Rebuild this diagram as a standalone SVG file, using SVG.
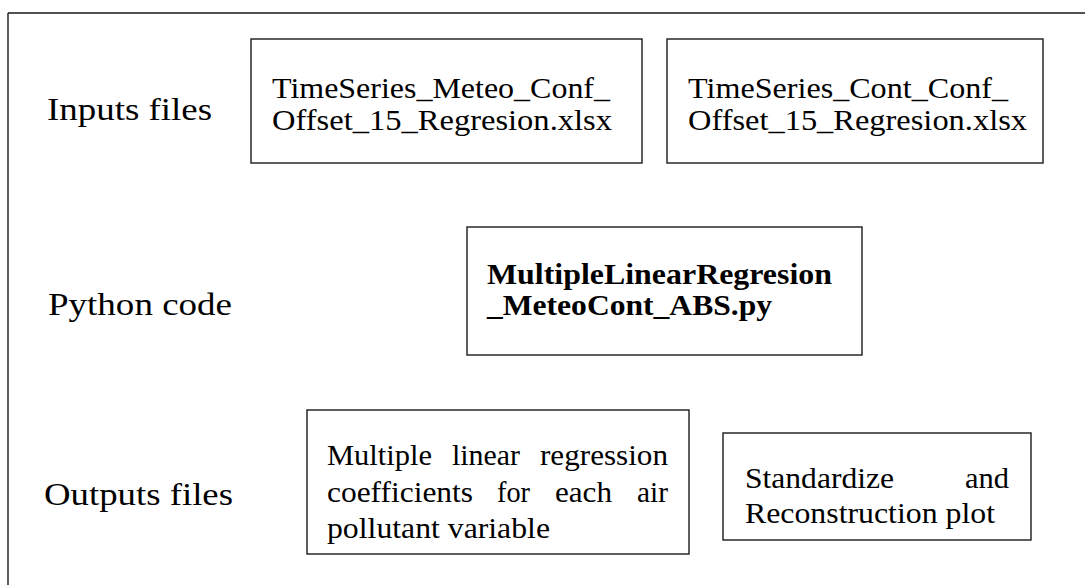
<svg xmlns="http://www.w3.org/2000/svg" width="1085" height="585" viewBox="0 0 1085 585">
<style>
.box{fill:#fff;stroke:#1a1a1a;stroke-width:1.4}
.frame{fill:none;stroke:#1a1a1a;stroke-width:1.4}
.t{font-family:"Liberation Serif","Times New Roman",serif;font-size:29px;fill:#000}
.lbl{font-family:"Liberation Serif","Times New Roman",serif;font-size:31px;fill:#000}
.b{font-weight:bold;font-size:30px}
</style>
<rect width="1085" height="585" fill="#fff"/>
<g id="frame">
<path class="frame" d="M8,13 H1085 M8,13 V585"/>
</g>
<g id="label-inputs"><text class="lbl" x="47" y="120" textLength="165" lengthAdjust="spacingAndGlyphs">Inputs files</text></g>
<g id="label-python"><text class="lbl" x="48" y="315" textLength="184" lengthAdjust="spacingAndGlyphs">Python code</text></g>
<g id="label-outputs"><text class="lbl" x="44" y="505" textLength="189" lengthAdjust="spacingAndGlyphs">Outputs files</text></g>
<g id="input-meteo">
<rect class="box" x="251" y="39" width="391" height="124"/>
<text class="t" x="272" y="98" textLength="338" lengthAdjust="spacingAndGlyphs">TimeSeries_Meteo_Conf_</text>
<text class="t" x="272" y="130" textLength="340" lengthAdjust="spacingAndGlyphs">Offset_15_Regresion.xlsx</text>
</g>
<g id="input-cont">
<rect class="box" x="667" y="39" width="376" height="124"/>
<text class="t" x="688" y="98" textLength="320" lengthAdjust="spacingAndGlyphs">TimeSeries_Cont_Conf_</text>
<text class="t" x="688" y="130" textLength="339" lengthAdjust="spacingAndGlyphs">Offset_15_Regresion.xlsx</text>
</g>
<g id="python-code">
<rect class="box" x="467" y="227" width="395" height="128"/>
<text class="t b" x="487" y="284" textLength="345" lengthAdjust="spacingAndGlyphs">MultipleLinearRegresion</text>
<text class="t b" x="487" y="315" textLength="285" lengthAdjust="spacingAndGlyphs">_MeteoCont_ABS.py</text>
</g>
<g id="output-coefficients">
<rect class="box" x="307" y="410" width="382" height="144"/>
<text class="t" x="327" y="465" textLength="105" lengthAdjust="spacingAndGlyphs">Multiple</text>
<text class="t" x="452" y="465" textLength="68" lengthAdjust="spacingAndGlyphs">linear</text>
<text class="t" x="540" y="465" textLength="128" lengthAdjust="spacingAndGlyphs">regression</text>
<text class="t" x="327" y="502" textLength="146" lengthAdjust="spacingAndGlyphs">coefficients</text>
<text class="t" x="497" y="502" textLength="33" lengthAdjust="spacingAndGlyphs">for</text>
<text class="t" x="555" y="502" textLength="57" lengthAdjust="spacingAndGlyphs">each</text>
<text class="t" x="637" y="502" textLength="31" lengthAdjust="spacingAndGlyphs">air</text>
<text class="t" x="327" y="538" textLength="223" lengthAdjust="spacingAndGlyphs">pollutant variable</text>
</g>
<g id="output-plot">
<rect class="box" x="723" y="433" width="308" height="107"/>
<text class="t" x="745" y="488" textLength="149" lengthAdjust="spacingAndGlyphs">Standardize</text>
<text class="t" x="965" y="488" textLength="44" lengthAdjust="spacingAndGlyphs">and</text>
<text class="t" x="745" y="523" textLength="250" lengthAdjust="spacingAndGlyphs">Reconstruction plot</text>
</g>
<g id="connectors"></g>
</svg>
